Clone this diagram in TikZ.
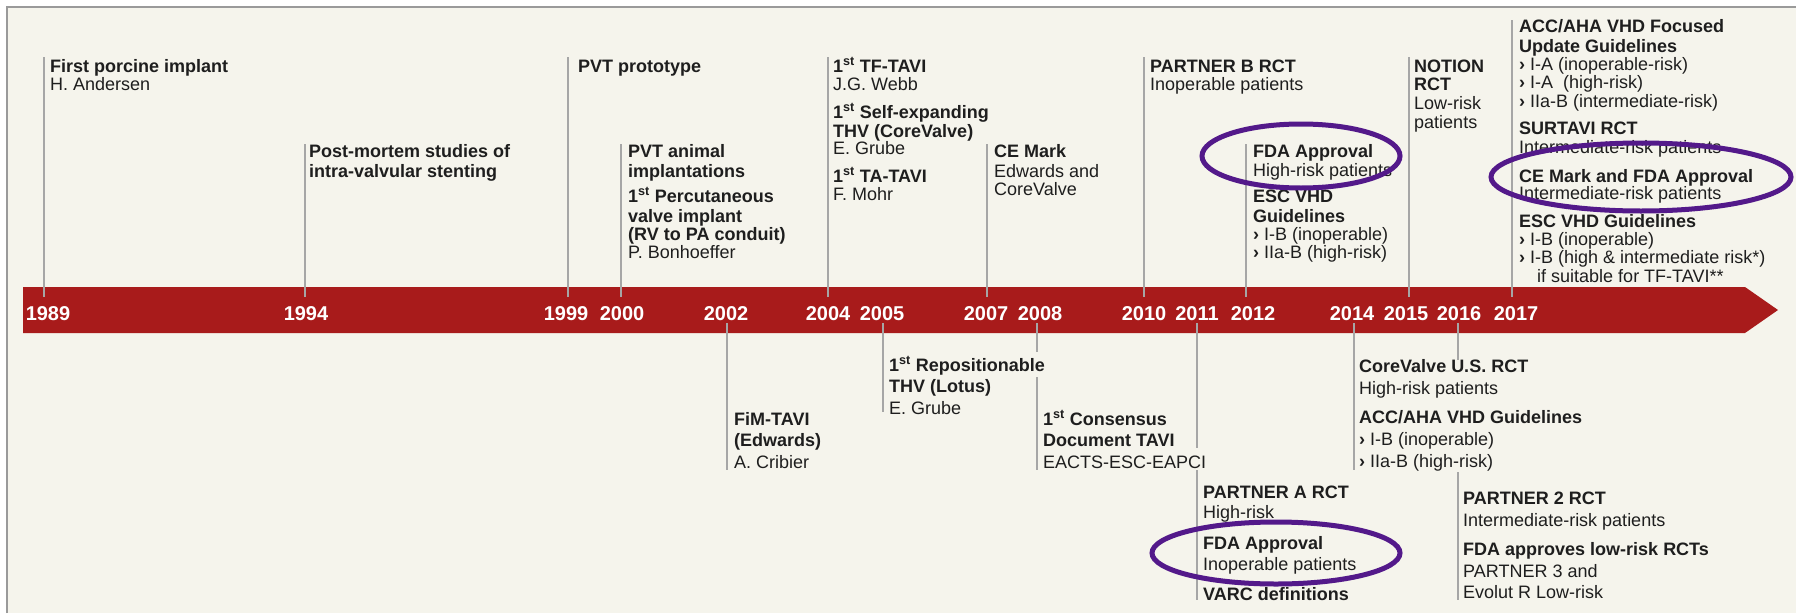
\documentclass[tikz,border=0pt]{standalone}
\usepackage{fontspec}
\setmainfont{Liberation Sans}
\definecolor{bgc}{HTML}{F5F4EC}
\definecolor{barred}{HTML}{A81B1B}
\definecolor{tickgray}{HTML}{A6A6A6}
\definecolor{framegray}{HTML}{9A9A9A}
\definecolor{ringpurple}{HTML}{53198A}
\definecolor{txt}{HTML}{1E1E1E}
\tikzset{
  hd/.style={anchor=base west, inner sep=0pt, font=\bfseries\fontsize{18}{20}\selectfont, text=txt},
  tx/.style={anchor=base west, inner sep=0pt, font=\fontsize{18}{20}\selectfont, text=txt},
  yr/.style={anchor=base, inner sep=0pt, font=\bfseries\fontsize{20}{22}\selectfont, text=white},
  tickline/.style={draw=tickgray, line width=1.5pt},
  ring/.style={draw=ringpurple, line width=5pt}
}
\newcommand{\chev}{{\bfseries ›}}
\begin{document}
\begin{tikzpicture}[x=1pt,y=-1pt]
\useasboundingbox (0,0) rectangle (1796,613);
\fill[white] (0,0) rectangle (1796,613);
\fill[bgc] (7,7) rectangle (1796,613);
\draw[framegray, line width=1.5pt] (7,613) -- (7,7) -- (1796,7);
% bar
\fill[barred] (23,287) -- (1745,287) -- (1778,310) -- (1745,333) -- (23,333) -- cycle;
% upper ticks
\foreach \x/\t in {44/57,305/144,568/57,621/144,828/57,987/144,1144/57,1246/144,1409/57,1512/20}{
  \coordinate (ua\x) at (\x,\t);
  \coordinate (ub\x) at (\x,297);
  \draw[tickline] (ua\x) -- (ub\x);
}
% lower ticks
\foreach \x/\a/\b in {727/323/470,883/323/412,1037/323/352,1037/377/470,1197/323/448,1197/470/600,1354/323/470,1458/323/360,1458/472/600}{
  \coordinate (la\x\a) at (\x,\a);
  \coordinate (lb\x\a) at (\x,\b);
  \draw[tickline] (la\x\a) -- (lb\x\a);
}
% years
\foreach \x/\y in {48/1989,306/1994,566/1999,622/2000,726/2002,828/2004,882/2005,986/2007,1040/2008,1144/2010,1197/2011,1253/2012,1352/2014,1406/2015,1459/2016,1516/2017}{
  \node[yr] (y\y) at (\x,320) {\y};
}
% 1989
\node[hd] (a1) at (50,72) {First porcine implant};
\node[tx] (a2) at (50,90) {H. Andersen};
% 1994
\node[hd] (b1) at (309,157) {Post-mortem studies of};
\node[hd] (b2) at (309,177) {intra-valvular stenting};
% 1999
\node[hd] (c1) at (578,72) {PVT prototype};
% 2000
\node[hd] (d1) at (628,157) {PVT animal};
\node[hd] (d2) at (628,177) {implantations};
\node[hd] (d3) at (628,202) {1\textsuperscript{st} Percutaneous};
\node[hd] (d4) at (628,222) {valve implant};
\node[hd] (d5) at (628,240) {(RV to PA conduit)};
\node[tx] (d6) at (628,258) {P. Bonhoeffer};
% 2004
\node[hd] (e1) at (833,72) {1\textsuperscript{st} TF-TAVI};
\node[tx] (e2) at (833,90) {J.G. Webb};
\node[hd] (e3) at (833,118) {1\textsuperscript{st} Self-expanding};
\node[hd] (e4) at (833,137) {THV (CoreValve)};
\node[tx] (e5) at (833,154) {E. Grube};
\node[hd] (e6) at (833,182) {1\textsuperscript{st} TA-TAVI};
\node[tx] (e7) at (833,200) {F. Mohr};
% 2007
\node[hd] (f1) at (994,157) {CE Mark};
\node[tx] (f2) at (994,177) {Edwards and};
\node[tx] (f3) at (994,195) {CoreValve};
% 2010
\node[hd] (g1) at (1150,72) {PARTNER B RCT};
\node[tx] (g2) at (1150,90) {Inoperable patients};
% 2012
\node[hd] (h1) at (1253,157) {FDA Approval};
\node[tx] (h2) at (1253,176) {High-risk patients};
\node[hd] (h3) at (1253,202) {ESC VHD};
\node[hd] (h4) at (1253,222) {Guidelines};
\node[tx] (h5) at (1253,240) {\chev\ I-B (inoperable)};
\node[tx] (h6) at (1253,258) {\chev\ IIa-B (high-risk)};
% 2015
\node[hd] (i1) at (1414,72) {NOTION};
\node[hd] (i2) at (1414,90) {RCT};
\node[tx] (i3) at (1414,109) {Low-risk};
\node[tx] (i4) at (1414,128) {patients};
% 2017
\node[hd] (j1) at (1519,32) {ACC/AHA VHD Focused};
\node[hd] (j2) at (1519,52) {Update Guidelines};
\node[tx] (j3) at (1519,70) {\chev\ I-A (inoperable-risk)};
\node[tx] (j4) at (1519,88) {\chev\ I-A\ \ (high-risk)};
\node[tx] (j5) at (1519,107) {\chev\ IIa-B (intermediate-risk)};
\node[hd] (j6) at (1519,134) {SURTAVI RCT};
\node[tx] (j7) at (1519,153) {Intermediate-risk patients};
\node[hd] (j8) at (1519,182) {CE Mark and FDA Approval};
\node[tx] (j9) at (1519,199) {Intermediate-risk patients};
\node[hd] (j10) at (1519,227) {ESC VHD Guidelines};
\node[tx] (j11) at (1519,245) {\chev\ I-B (inoperable)};
\node[tx] (j12) at (1519,263) {\chev\ I-B (high \& intermediate risk*)};
\node[tx] (j13) at (1537,282) {if suitable for TF-TAVI**};
% lower 2002
\node[hd] (k1) at (734,425) {FiM-TAVI};
\node[hd] (k2) at (734,446) {(Edwards)};
\node[tx] (k3) at (734,468) {A. Cribier};
% 2005
\node[hd] (l1) at (889,371) {1\textsuperscript{st} Repositionable};
\node[hd] (l2) at (889,392) {THV (Lotus)};
\node[tx] (l3) at (889,414) {E. Grube};
% 2008
\node[hd] (m1) at (1043,425) {1\textsuperscript{st} Consensus};
\node[hd] (m2) at (1043,446) {Document TAVI};
\node[tx] (m3) at (1043,468) {EACTS-ESC-EAPCI};
% 2011
\node[hd] (n1) at (1203,498) {PARTNER A RCT};
\node[tx] (n2) at (1203,518) {High-risk};
\node[hd] (n3) at (1203,549) {FDA Approval};
\node[tx] (n4) at (1203,570) {Inoperable patients};
\node[hd] (n5) at (1203,600) {VARC definitions};
% 2014
\node[hd] (o1) at (1359,372) {CoreValve U.S. RCT};
\node[tx] (o2) at (1359,394) {High-risk patients};
\node[hd] (o3) at (1359,423) {ACC/AHA VHD Guidelines};
\node[tx] (o4) at (1359,445) {\chev\ I-B (inoperable)};
\node[tx] (o5) at (1359,467) {\chev\ IIa-B (high-risk)};
% 2016
\node[hd] (p1) at (1463,504) {PARTNER 2 RCT};
\node[tx] (p2) at (1463,526) {Intermediate-risk patients};
\node[hd] (p3) at (1463,555) {FDA approves low-risk RCTs};
\node[tx] (p4) at (1463,577) {PARTNER 3 and};
\node[tx] (p5) at (1463,598) {Evolut R Low-risk};
% rings
\draw[ring] (1301,156) ellipse [x radius=99, y radius=32];
\draw[ring] (1641,177) ellipse [x radius=150, y radius=34];
\draw[ring] (1276,553) ellipse [x radius=124, y radius=31];
\end{tikzpicture}
\end{document}
